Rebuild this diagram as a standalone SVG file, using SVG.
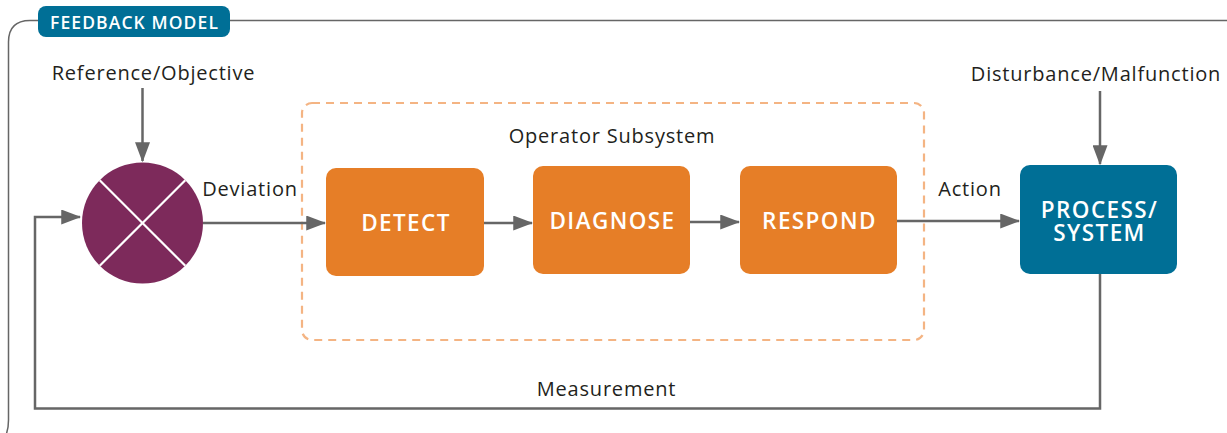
<svg xmlns="http://www.w3.org/2000/svg" width="1227" height="433" viewBox="0 0 1227 433">
  <style>
    .lbl { font-family: "Open Sans", Lato, "Liberation Sans", sans-serif; font-size: 20px; letter-spacing: 0.8px; fill: #231f20; }
    .box-txt { font-family: "Open Sans", Lato, "Liberation Sans", sans-serif; font-size: 22.5px; font-weight: 600; letter-spacing: 1.4px; fill: #ffffff; text-anchor: middle; }
    .conn { fill: none; stroke: #666666; stroke-width: 2.5; }
    .step { fill: #e67e27; }
    .proc { fill: #006f96; }
  </style>
  <defs>
    <marker id="arrow" markerWidth="8" markerHeight="6" refX="7.5" refY="3" orient="auto" markerUnits="strokeWidth">
      <path d="M0,0 L8,3 L0,6 Z" fill="#666666"/>
    </marker>
  </defs>

  <rect width="1227" height="433" fill="#ffffff"/>

  <!-- outer frame -->
  <g id="frame">
    <path d="M1227,20.5 L30,20.5 Q8.5,20.5 8.5,42 L8.5,420 Q8.5,433 3,440" fill="none" stroke="#666666" stroke-width="1.5"/>
    <rect x="38" y="6" width="192" height="31" rx="8" fill="#006f96"/>
    <text x="134.5" y="28.5" font-family="'Open Sans', Lato, 'Liberation Sans', sans-serif" font-size="17.5" font-weight="600" letter-spacing="1.1" fill="#ffffff" text-anchor="middle">FEEDBACK MODEL</text>
  </g>

  <!-- operator subsystem boundary -->
  <g id="operator-subsystem">
    <rect x="302" y="103" width="622" height="237" rx="10" fill="none" stroke="#f4b483" stroke-width="2.2" stroke-dasharray="8 6"/>
    <text class="lbl" x="612" y="143" text-anchor="middle">Operator Subsystem</text>
  </g>

  <!-- connectors -->
  <g id="connectors">
    <line class="conn" x1="142.5" y1="88" x2="142.5" y2="161" marker-end="url(#arrow)"/>
    <line class="conn" x1="203" y1="223" x2="325" y2="223" marker-end="url(#arrow)"/>
    <line class="conn" x1="484" y1="223" x2="532" y2="223" marker-end="url(#arrow)"/>
    <line class="conn" x1="690" y1="222" x2="739" y2="222" marker-end="url(#arrow)"/>
    <line class="conn" x1="897" y1="221" x2="1019" y2="221" marker-end="url(#arrow)"/>
    <line class="conn" x1="1100" y1="91" x2="1100" y2="164" marker-end="url(#arrow)"/>
    <polyline class="conn" points="1100,274 1100,408.5 35,408.5 35,217 80,217" marker-end="url(#arrow)"/>
    <text class="lbl" x="153.5" y="80" text-anchor="middle">Reference/Objective</text>
    <text class="lbl" x="250" y="196" text-anchor="middle">Deviation</text>
    <text class="lbl" x="970" y="196" text-anchor="middle">Action</text>
    <text class="lbl" x="1096" y="81" text-anchor="middle">Disturbance/Malfunction</text>
    <text class="lbl" x="606.5" y="396" text-anchor="middle">Measurement</text>
  </g>

  <!-- comparator -->
  <g id="comparator">
    <circle cx="142.5" cy="223" r="60.5" fill="#7d2a5b"/>
    <line x1="99.7" y1="180.2" x2="185.3" y2="265.8" stroke="#ffffff" stroke-width="2.2"/>
    <line x1="185.3" y1="180.2" x2="99.7" y2="265.8" stroke="#ffffff" stroke-width="2.2"/>
  </g>

  <g id="detect">
    <rect class="step" x="326" y="168" width="158" height="108" rx="10"/>
    <text class="box-txt" x="406" y="231">DETECT</text>
  </g>

  <g id="diagnose">
    <rect class="step" x="533" y="166" width="157" height="108" rx="10"/>
    <text class="box-txt" x="612.5" y="229">DIAGNOSE</text>
  </g>

  <g id="respond">
    <rect class="step" x="740" y="166" width="157" height="108" rx="10"/>
    <text class="box-txt" x="819.5" y="229">RESPOND</text>
  </g>

  <g id="process-system">
    <rect class="proc" x="1020" y="165" width="157" height="109" rx="10"/>
    <text class="box-txt" font-size="21.5"><tspan x="1099.5" y="218">PROCESS/</tspan><tspan x="1099.5" y="240.5">SYSTEM</tspan></text>
  </g>
</svg>
